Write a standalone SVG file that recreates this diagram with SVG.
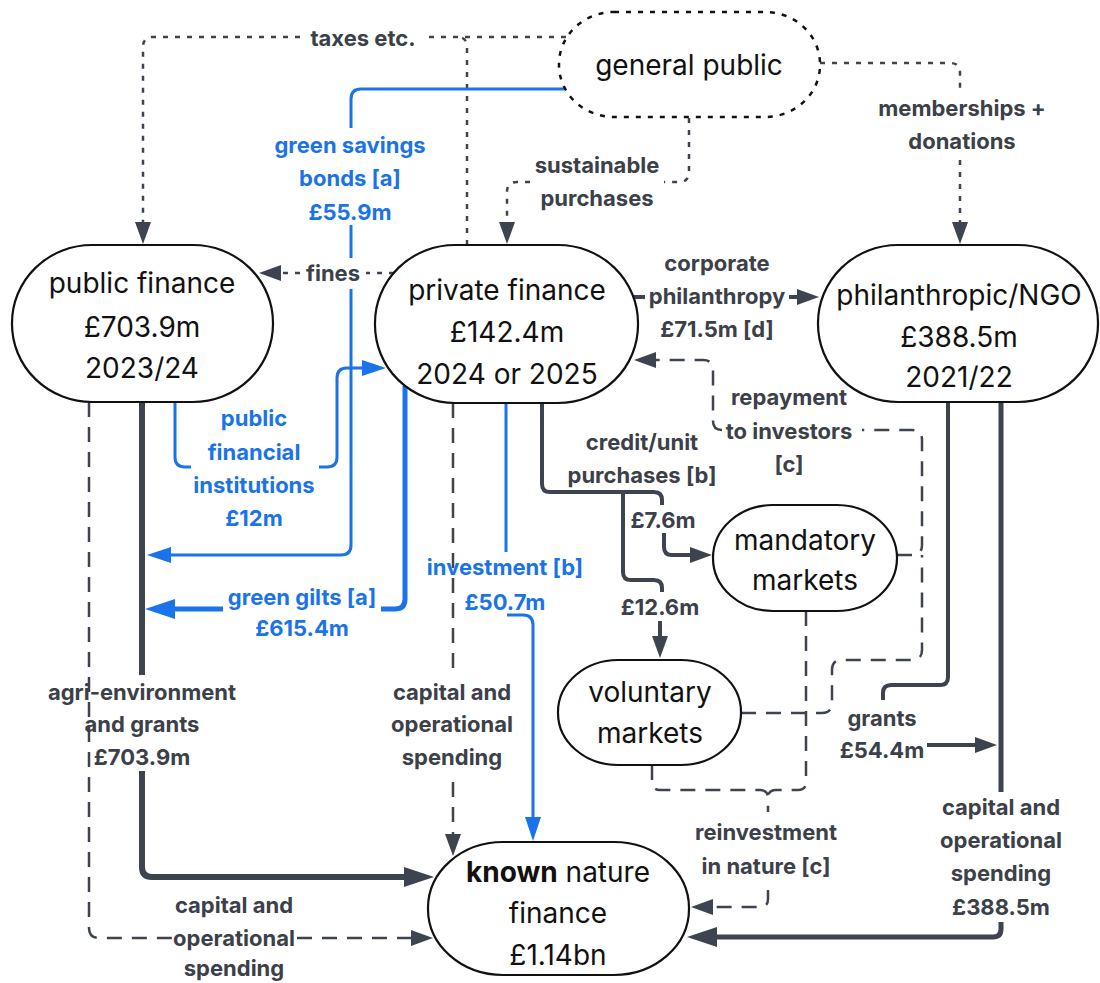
<svg xmlns="http://www.w3.org/2000/svg" width="1100" height="983" viewBox="0 0 1100 983">
<defs>
<style>
.node{fill:#fff;stroke:#111;stroke-width:2.2}
.nt{font-family:Inter,"Noto Sans",sans-serif;font-size:28px;fill:#111;text-anchor:middle}
.lb{font-family:Inter,"Noto Sans",sans-serif;font-size:22px;font-weight:700;fill:#3b4049;text-anchor:middle}
.bl{fill:#1a73e8}
.c{fill:none;stroke:#3d4450;stroke-linecap:butt}
.blue{stroke:#1a73e8}
.dot{stroke-width:2.5;stroke-dasharray:5 7}
.dash{stroke-width:2.5;stroke-dasharray:15 10}
</style>
<marker id="aD" viewBox="0 0 22 16" refX="1" refY="8" markerWidth="22" markerHeight="16" markerUnits="userSpaceOnUse" orient="auto"><path d="M0,0 L22,8 L0,16 z" fill="#3d4450"/></marker>
<marker id="aDL" viewBox="0 0 30 20" refX="1" refY="10" markerWidth="30" markerHeight="20" markerUnits="userSpaceOnUse" orient="auto"><path d="M0,0 L30,10 L0,20 z" fill="#3d4450"/></marker>
<marker id="aB" viewBox="0 0 24 16" refX="1" refY="8" markerWidth="24" markerHeight="16" markerUnits="userSpaceOnUse" orient="auto"><path d="M0,0 L24,8 L0,16 z" fill="#1a73e8"/></marker>
<marker id="aBL" viewBox="0 0 30 20" refX="1" refY="10" markerWidth="30" markerHeight="20" markerUnits="userSpaceOnUse" orient="auto"><path d="M0,0 L30,10 L0,20 z" fill="#1a73e8"/></marker>
</defs>
<rect width="1100" height="983" fill="#fff"/>

<g id="connectors">
<!-- taxes etc. -->
<path class="c dot" d="M566,37 L428,37"/>
<path class="c dot" d="M300,37 L153,37 Q143,37 143,47 L143,223" marker-end="url(#aD)"/>
<path class="c dot" d="M467,245 L467,47 Q467,37 457,37"/>
<!-- fines -->
<path class="c dot" d="M394,273 L366,273"/>
<path class="c dot" d="M300,273 L280,273" marker-end="url(#aD)"/>
<!-- sustainable purchases -->
<path class="c dot" d="M689,118 L689,172 Q689,182 679,182 L664,182"/>
<path class="c dot" d="M530,182 L517,182 Q507,182 507,192 L507,223" marker-end="url(#aD)"/>
<!-- memberships + donations -->
<path class="c dot" d="M820,63 L950,63 Q960,63 960,73 L960,88"/>
<path class="c dot" d="M960,160 L960,223" marker-end="url(#aD)"/>
<!-- green savings bonds -->
<path class="c blue" stroke-width="3" d="M564,89 L361,89 Q351,89 351,99 L351,128"/>
<path class="c blue" stroke-width="3" d="M351,225 L351,258"/>
<path class="c blue" stroke-width="3" d="M351,289 L351,545 Q351,555 341,555 L170,555" marker-end="url(#aB)"/>
<!-- green gilts -->
<path class="c blue" stroke-width="5" d="M405,386 L405,599 Q405,609 395,609 L381,609"/>
<path class="c blue" stroke-width="5" d="M223,609 L174,609" marker-end="url(#aBL)"/>
<!-- public financial institutions -->
<path class="c blue" stroke-width="3" d="M175,402 L175,457 Q175,467 185,467 L191,467"/>
<path class="c blue" stroke-width="3" d="M319,467 L327,467 Q337,467 337,457 L337,378 Q337,368 347,368 L363,368" marker-end="url(#aB)"/>
<!-- agri-environment -->
<path class="c" stroke-width="6" d="M142,402 L142,675"/>
<path class="c" stroke-width="6" d="M142,771 L142,867 Q142,877 152,877 L405,877" marker-end="url(#aDL)"/>
<!-- public capital/operational dashed -->
<path class="c dash" d="M89,402 L89,928 Q89,938 99,938 L172,938"/>
<path class="c dash" d="M297,938 L412,938" marker-end="url(#aD)"/>
<!-- private capital/operational dashed -->
<path class="c dash" d="M453,403 L453,676"/>
<path class="c dash" d="M453,782 L453,835" marker-end="url(#aD)"/>
<!-- investment -->
<path class="c blue" stroke-width="3" d="M506,403 L506,552"/>
<path class="c blue" stroke-width="3" d="M507,615 L523,615 Q533,615 533,625 L533,818" marker-end="url(#aB)"/>
<!-- credit/unit purchases -->
<path class="c" stroke-width="4" d="M542,403 L542,484 Q542,492 550,492 L654,492 Q662,492 662,500 L662,505"/>
<path class="c" stroke-width="4" d="M664,533 L664,547 Q664,555 672,555 L691,555" marker-end="url(#aD)"/>
<path class="c" stroke-width="4" d="M623,492 L623,572 Q623,580 631,580 L654,580 Q662,580 662,588 L662,592"/>
<path class="c" stroke-width="4" d="M660,621 L660,637" marker-end="url(#aD)"/>
<!-- repayment to investors -->
<path class="c dash" d="M897,555 L912,555 Q922,555 922,545 L922,440 Q922,430 912,430 L862,430"/>
<path class="c dash" d="M741,713 L822,713 Q832,713 832,703 L832,670 Q832,660 842,660 L912,660 Q922,660 922,650 L922,555"/>
<path class="c dash" d="M722,430 Q713,430 713,421 L713,370 Q713,360 703,360 L655,360" marker-end="url(#aD)"/>
<!-- reinvestment in nature -->
<path class="c dash" d="M652,765 L652,782 Q652,790 660,790 L760,790 Q768,790 768,798 L768,812"/>
<path class="c dash" d="M806,611 L806,782 Q806,790 798,790 L776,790 Q768,790 768,798"/>
<path class="c dash" d="M768,890 L768,899 Q768,907 760,907 L712,907" marker-end="url(#aD)"/>
<!-- grants -->
<path class="c" stroke-width="4" d="M948,402 L948,677 Q948,685 940,685 L891,685 Q883,685 883,693 L883,700"/>
<path class="c" stroke-width="4" d="M927,745 L976,745" marker-end="url(#aD)"/>
<!-- philanthropic capital/operational -->
<path class="c" stroke-width="5" d="M1001,402 L1001,792"/>
<path class="c" stroke-width="5" d="M1001,922 L1001,929 Q1001,937 993,937 L716,937" marker-end="url(#aDL)"/>
<!-- corporate philanthropy -->
<path class="c" stroke-width="4" d="M634,297 L645,297"/>
<path class="c" stroke-width="4" d="M789,297 L798,297" marker-end="url(#aD)"/>

<!-- labels -->
<text class="lb" x="363" y="46">taxes etc.</text>
<text class="lb" x="333" y="281">fines</text>
<text class="lb" x="597" y="173">sustainable</text>
<text class="lb" x="597" y="206">purchases</text>
<text class="lb" x="962" y="116">memberships +</text>
<text class="lb" x="962" y="149">donations</text>
<text class="lb bl" x="350" y="153">green savings</text>
<text class="lb bl" x="350" y="186">bonds [a]</text>
<text class="lb bl" x="350" y="220">£55.9m</text>
<text class="lb" x="717" y="271">corporate</text>
<text class="lb" x="717" y="304">philanthropy</text>
<text class="lb" x="717" y="337">£71.5m [d]</text>
<text class="lb bl" x="254" y="426">public</text>
<text class="lb bl" x="254" y="460">financial</text>
<text class="lb bl" x="254" y="493">institutions</text>
<text class="lb bl" x="254" y="526">£12m</text>
<text class="lb" x="789" y="405">repayment</text>
<text class="lb" x="789" y="439">to investors</text>
<text class="lb" x="789" y="472">[c]</text>
<text class="lb" x="642" y="450">credit/unit</text>
<text class="lb" x="642" y="483">purchases [b]</text>
<text class="lb" x="663" y="528">£7.6m</text>
<text class="lb bl" x="505" y="575">investment [b]</text>
<text class="lb bl" x="505" y="610">£50.7m</text>
<text class="lb bl" x="302" y="605">green gilts [a]</text>
<text class="lb bl" x="302" y="636">£615.4m</text>
<text class="lb" x="660" y="615">£12.6m</text>
<text class="lb" x="142" y="700">agri-environment</text>
<text class="lb" x="142" y="732">and grants</text>
<text class="lb" x="142" y="765">£703.9m</text>
<text class="lb" x="452" y="700">capital and</text>
<text class="lb" x="452" y="732">operational</text>
<text class="lb" x="452" y="765">spending</text>
<text class="lb" x="882" y="726">grants</text>
<text class="lb" x="882" y="758">£54.4m</text>
<text class="lb" x="1001" y="815">capital and</text>
<text class="lb" x="1001" y="848">operational</text>
<text class="lb" x="1001" y="881">spending</text>
<text class="lb" x="1001" y="915">£388.5m</text>
<text class="lb" x="766" y="840">reinvestment</text>
<text class="lb" x="766" y="874">in nature [c]</text>
<text class="lb" x="234" y="913">capital and</text>
<text class="lb" x="234" y="946">operational</text>
<text class="lb" x="234" y="976">spending</text>
</g>

<g id="general-public">
<rect x="559" y="12" width="261" height="105" rx="55" ry="52" fill="#fff" stroke="#111" stroke-width="2.5" stroke-dasharray="5 7"/>
<text class="nt" x="689" y="75">general public</text>
</g>
<g id="public-finance">
<rect class="node" x="12" y="245" width="261" height="157" rx="80" ry="78"/>
<text class="nt" x="142" y="293">public finance</text>
<text class="nt" x="142" y="337">£703.9m</text>
<text class="nt" x="142" y="378">2023/24</text>
</g>
<g id="private-finance">
<rect class="node" x="375" y="245" width="263" height="158" rx="80" ry="78"/>
<text class="nt" x="507" y="300">private finance</text>
<text class="nt" x="507" y="342">£142.4m</text>
<text class="nt" x="507" y="384">2024 or 2025</text>
</g>
<g id="philanthropic-ngo">
<rect class="node" x="818" y="245" width="280" height="157" rx="80" ry="78"/>
<text class="nt" x="959" y="305">philanthropic/NGO</text>
<text class="nt" x="959" y="347">£388.5m</text>
<text class="nt" x="959" y="387">2021/22</text>
</g>
<g id="mandatory-markets">
<rect class="node" x="713" y="505" width="184" height="106" rx="60" ry="53"/>
<text class="nt" x="805" y="550">mandatory</text>
<text class="nt" x="805" y="590">markets</text>
</g>
<g id="voluntary-markets">
<rect class="node" x="558" y="660" width="183" height="105" rx="60" ry="52"/>
<text class="nt" x="650" y="702">voluntary</text>
<text class="nt" x="650" y="743">markets</text>
</g>
<g id="known-nature-finance">
<rect class="node" x="428" y="842" width="261" height="133" rx="75" ry="66"/>
<text class="nt" x="558" y="882"><tspan font-weight="700">known</tspan> nature</text>
<text class="nt" x="558" y="923">finance</text>
<text class="nt" x="558" y="965">£1.14bn</text>
</g>
</svg>
